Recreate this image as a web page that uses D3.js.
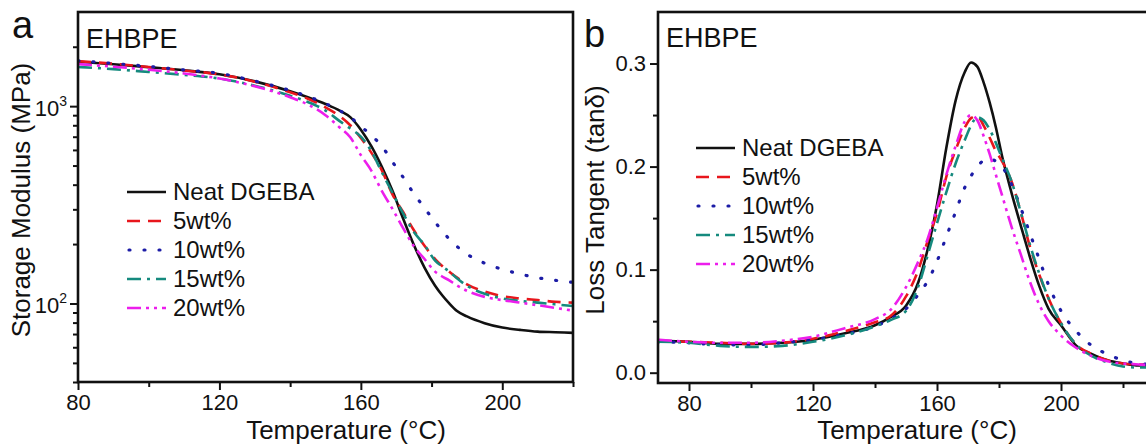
<!DOCTYPE html>
<html>
<head>
<meta charset="utf-8">
<script src="https://cdn.jsdelivr.net/npm/d3@7"></script>
<style>
body{margin:0;background:#fff}
svg text{font-family:"Liberation Sans",Arial,sans-serif;fill:#111}
</style>
</head>
<body>
<svg width="1146" height="444"></svg>
<script>
// panel a: storage modulus (MPa)
const tempA=[80,90,100,110,120,130,140,145,150,154,157,160,163,166,169,172,175,178,181,183,185,187,190,195,200,205,210,215,220];
const modNeat=[1679,1630,1575,1520,1450,1335,1190,1110,1025,950,880,760,625,490,370,268,198,152,123,110,100,92,86,79.5,75.5,73.5,72,71.5,71];
const mod5=[1690,1640,1580,1515,1450,1330,1175,1090,985,890,800,690,580,470,355,290,235,196,168,155,145,136,125,115,109,106,104,102,101];
const mod10=[1700,1645,1590,1525,1465,1340,1200,1120,1030,950,880,790,710,625,520,435,360,305,258,234,212,196,178,160,149,141,135,131,128];
const mod15=[1580,1540,1490,1440,1380,1270,1130,1050,950,840,770,700,590,460,362,285,230,198,165,154,145,135,123,112,106,103,101,99,97];
const mod20=[1634,1585,1530,1465,1380,1260,1110,1020,900,780,695,565,470,370,300,240,195,168,145,137,131,124,116,108,104,101,98,95,92];

// panel b: loss tangent
const tempB=[70,80,90,100,110,120,130,140,145,150,154,157,160,163,166,169,171,173,175,177,179,181,184,187,190,193,196,200,205,210,215,220,225,230];
const tanNeat=[.031,.030,.028,.028,.029,.032,.038,.046,.054,.065,.088,.120,.163,.218,.264,.292,.301,.297,.282,.262,.238,.210,.175,.143,.112,.084,.062,.046,.026,.018,.012,.009,.007,.007];
const tan5=[.031,.030,.029,.028,.029,.033,.040,.049,.055,.074,.100,.128,.155,.190,.216,.238,.247,.249,.240,.228,.215,.205,.186,.156,.122,.095,.072,.048,.027,.018,.012,.009,.008,.008];
const tan10=[.030,.029,.027,.027,.029,.032,.037,.045,.052,.062,.076,.089,.108,.132,.156,.180,.191,.200,.206,.208,.205,.200,.183,.160,.135,.110,.085,.060,.040,.026,.018,.012,.009,.008];
const tan15=[.030,.029,.026,.025,.026,.030,.036,.045,.051,.060,.084,.114,.145,.175,.203,.226,.240,.248,.245,.236,.223,.208,.186,.156,.124,.096,.072,.048,.027,.016,.010,.006,.005,.005];
const tan20=[.032,.030,.029,.029,.031,.035,.043,.052,.061,.083,.108,.130,.160,.192,.220,.244,.250,.245,.230,.212,.192,.172,.142,.115,.088,.066,.050,.036,.024,.016,.011,.009,.008,.007];

const names=["Neat DGEBA","5wt%","10wt%","15wt%","20wt%"];
const colors=["#111111","#e8161c","#1c1ca6","#158a7e","#ec1eec"];
const dashes=[null,"13,8","1,14","14,6,3,6","14,5,3,5,3,5"];

const svg=d3.select("svg");

const xA=d3.scaleLinear().domain([80,220]).range([78,573]);
const yA=d3.scaleLog().domain([40,3000]).range([382,12]);
const xB=d3.scaleLinear().domain([70,230]).range([658,1154]);
const yB=d3.scaleLinear().domain([-0.01,0.35]).range([383,12]);

function styleAxis(g){
  g.select(".domain").remove();
  g.selectAll("line").attr("stroke","#111").attr("stroke-width",2);
  g.selectAll("text").attr("font-size","22px").attr("fill","#111");
}

function panel(id,x,y,temps,series,opt){
  const [x0,x1]=x.range(), [y1,y0]=y.range();
  svg.append("clipPath").attr("id","clip"+id)
     .append("rect").attr("x",x0).attr("y",y0).attr("width",x1-x0).attr("height",y1-y0);

  // curves
  const line=d3.line().x(d=>x(d[0])).y(d=>y(d[1])).curve(d3.curveMonotoneX);
  const g=svg.append("g").attr("clip-path","url(#clip"+id+")");
  series.forEach((s,i)=>{
    g.append("path")
     .attr("d",line(temps.map((t,j)=>[t,s[j]])))
     .attr("fill","none")
     .attr("stroke",colors[i])
     .attr("stroke-width",i==2?3.2:2.6)
     .attr("stroke-linecap",i==2?"round":"butt")
     .attr("stroke-dasharray",dashes[i]);
  });

  // x axis
  svg.append("g").attr("transform","translate(0,"+y1+")")
     .call(d3.axisBottom(x).tickValues(opt.xMinor).tickSize(5).tickFormat(""))
     .call(styleAxis);
  svg.append("g").attr("transform","translate(0,"+y1+")")
     .call(d3.axisBottom(x).tickValues([80,120,160,200]).tickSize(8).tickPadding(4).tickFormat(d3.format("d")))
     .call(styleAxis);

  // y axis
  svg.append("g").attr("transform","translate("+x0+",0)")
     .call(d3.axisLeft(y).tickValues(opt.yMinor).tickSize(5).tickFormat(""))
     .call(styleAxis);
  const ya=svg.append("g").attr("transform","translate("+x0+",0)")
     .call(d3.axisLeft(y).tickValues(opt.yMajor).tickSize(8).tickPadding(4).tickFormat(opt.yFormat||""))
     .call(styleAxis);
  if(opt.logLabels){
    ya.selectAll(".tick text").each(function(d){
      const t=d3.select(this).attr("dy",null).attr("y",9).attr("x",-11);
      t.append("tspan").text("10");
      t.append("tspan").attr("font-size","14px").attr("dy",-10).text(Math.round(Math.log10(d)));
    });
  }

  // frame
  svg.append("rect").attr("x",x0).attr("y",y0).attr("width",x1-x0).attr("height",y1-y0)
     .attr("fill","none").attr("stroke","#111").attr("stroke-width",2.6);

  // labels
  svg.append("text").attr("x",opt.letter[0]).attr("y",opt.letter[1]).attr("font-size","38px").text(opt.letterText);
  svg.append("text").attr("x",x0+8).attr("y",opt.nameY).attr("font-size","27px").text("EHBPE");
  svg.append("text").attr("x",opt.xLabel).attr("y",439).attr("text-anchor","middle").attr("font-size","26px").text("Temperature (°C)");
  svg.append("text").attr("transform","translate("+opt.yLabel[0]+","+opt.yLabel[1]+") rotate(-90)")
     .attr("text-anchor","middle").attr("font-size","26px").text(opt.yText);

  // legend
  const lg=svg.append("g");
  names.forEach((n,i)=>{
    const by=opt.legY+i*29;
    lg.append("line").attr("x1",opt.legX+(i==2?2:0)).attr("x2",opt.legX+39).attr("y1",by-8).attr("y2",by-8)
      .attr("stroke",colors[i]).attr("stroke-width",i==2?3.2:2.6)
      .attr("stroke-linecap",i==2?"round":"butt")
      .attr("stroke-dasharray",dashes[i]);
    lg.append("text").attr("x",opt.legX+46).attr("y",by).attr("font-size","24px").text(n);
  });
}

panel("a",xA,yA,tempA,[modNeat,mod5,mod10,mod15,mod20],{
  xMinor:[100,140,180,220],
  yMajor:[100,1000],
  yMinor:[40,50,60,70,80,90,200,300,400,500,600,700,800,900,2000],
  logLabels:true,
  letter:[12,38],letterText:"a",nameY:48,
  xLabel:346,yLabel:[30,200],yText:"Storage Modulus (MPa)",
  legX:127,legY:200
});

panel("b",xB,yB,tempB,[tanNeat,tan5,tan10,tan15,tan20],{
  xMinor:[100,140,180,220],
  yMajor:[0,0.1,0.2,0.3],
  yMinor:[0.05,0.15,0.25],
  yFormat:d3.format(".1f"),
  letter:[584,47],letterText:"b",nameY:47,
  xLabel:917,yLabel:[604,200],yText:"Loss Tangent (tanδ)",
  legX:696,legY:156
});
</script>
</body>
</html>
